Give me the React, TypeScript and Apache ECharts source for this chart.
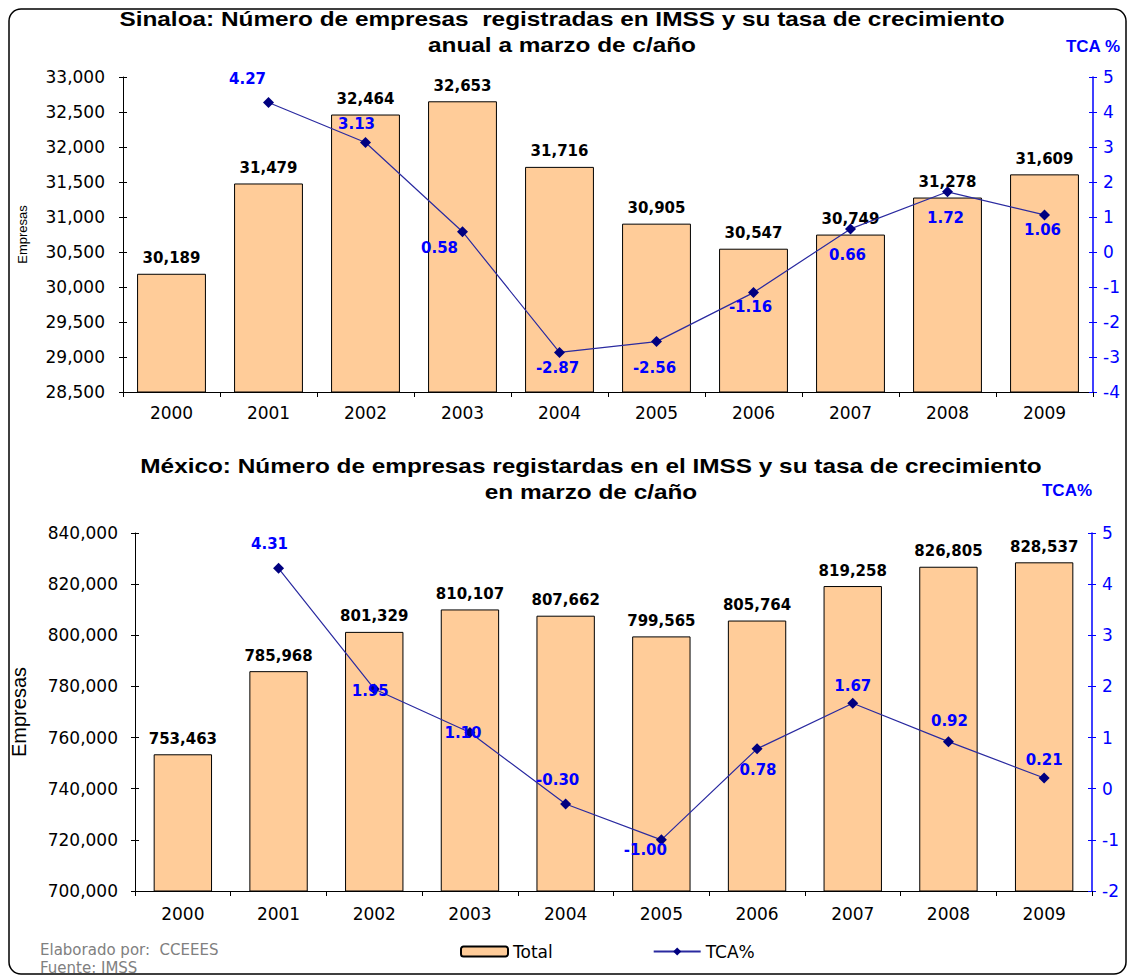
import React, { useEffect, useRef } from "react";
import * as echarts from "echarts";

const years = ["2000", "2001", "2002", "2003", "2004", "2005", "2006", "2007", "2008", "2009"];
const sinaloaTotal = [30189, 31479, 32464, 32653, 31716, 30905, 30547, 30749, 31278, 31609];
const sinaloaTca = [null, 4.27, 3.13, 0.58, -2.87, -2.56, -1.16, 0.66, 1.72, 1.06];
const mexicoTotal = [753463, 785968, 801329, 810107, 807662, 799565, 805764, 819258, 826805, 828537];
const mexicoTca = [null, 4.31, 1.95, 1.1, -0.3, -1.0, 0.78, 1.67, 0.92, 0.21];

// label shifts (dx, dy) of the TCA value labels relative to their points
const sinaloaTcaShift = [[0, 0], [-21, -24], [-9, -18], [-23, 16], [-2, 16], [-2, 26], [-3, 14], [-3, 26], [-2, 26], [-2, 15]];
const mexicoTcaShift = [[0, 0], [-9, -24], [-4, 2], [-7, 1], [-8, -24], [-16, 10], [1, 21], [0, -17], [1, -21], [0, -18]];

const sinaloaTitle = "Sinaloa: Número de empresas  registradas en IMSS y su tasa de crecimiento\nanual a marzo de c/año";
const mexicoTitle = "México: Número de empresas registardas en el IMSS y su tasa de crecimiento\nen marzo de c/año";

const BAR_COLOR = "#FFCC99";
const LINE_COLOR = "#2A2AA0";
const MARK_COLOR = "#000080";
const BLUE = "#0000FF";
const TICK_FONT = "DejaVu Sans";
const LABEL_FONT = "DejaVu Sans";

const fmt = (v: number) => Number(v).toLocaleString("en-US");

function valueAxes(grid: number, min: number, max: number, interval: number, rmin: number, rmax: number, name: string, nameSize: number, nameGap: number, tcaName: string, tcaGap: number, tcaPad: number[], labelMargin: number) {
  const leftMain = {
    type: "value", gridIndex: grid, position: "left", min, max, interval,
    name, nameLocation: "middle", nameGap,
    nameTextStyle: { fontFamily: "Liberation Sans", fontSize: nameSize, color: "#000" },
    axisLine: { show: true, lineStyle: { color: "#000", width: 1 } },
    axisTick: { show: true, length: 4, lineStyle: { color: "#000" } },
    axisLabel: { formatter: fmt, fontFamily: TICK_FONT, fontSize: 17, color: "#000", margin: labelMargin },
    splitLine: { show: false },
  };
  const leftInner = {
    type: "value", gridIndex: grid, position: "left", min, max, interval,
    axisLine: { show: false },
    axisTick: { show: true, inside: true, length: 4, lineStyle: { color: "#000" } },
    axisLabel: { show: false }, splitLine: { show: false },
  };
  const rightMain = {
    type: "value", gridIndex: grid, position: "right", min: rmin, max: rmax, interval: 1,
    name: tcaName, nameLocation: "end", nameGap: tcaGap,
    nameTextStyle: { fontFamily: "Liberation Sans", fontWeight: "bold", fontSize: 17, color: BLUE, padding: tcaPad },
    axisLine: { show: true, lineStyle: { color: BLUE, width: 1.5 } },
    axisTick: { show: true, length: 4, lineStyle: { color: BLUE } },
    axisLabel: { fontFamily: TICK_FONT, fontSize: 17, color: BLUE, margin: 10 },
    splitLine: { show: false },
  };
  const rightInner = {
    type: "value", gridIndex: grid, position: "right", min: rmin, max: rmax, interval: 1,
    axisLine: { show: false },
    axisTick: { show: true, inside: true, length: 4, lineStyle: { color: BLUE } },
    axisLabel: { show: false }, splitLine: { show: false },
  };
  return [leftMain, rightMain, leftInner, rightInner];
}

function catAxis(grid: number, margin: number) {
  return {
    type: "category", gridIndex: grid, data: years,
    axisLine: { show: true, onZero: false, lineStyle: { color: "#000", width: 1 } },
    axisTick: { show: true, length: 5, lineStyle: { color: "#000" } },
    axisLabel: { fontFamily: TICK_FONT, fontSize: 17, color: "#000", margin },
  };
}

function barSeries(xi: number, yi: number, values: number[], width: string) {
  return {
    type: "bar", name: "Total", xAxisIndex: xi, yAxisIndex: yi, data: values, barWidth: width,
    itemStyle: { color: BAR_COLOR, borderColor: "#000", borderWidth: 1 },
    label: {
      show: true, position: "top", distance: 8, formatter: (p: any) => fmt(p.value),
      fontFamily: LABEL_FONT, fontWeight: "bold", fontSize: 15, color: "#000",
    },
    z: 2,
  };
}

function lineSeries(xi: number, yi: number, values: (number | null)[], shifts: number[][]) {
  return {
    type: "line", name: "TCA%", xAxisIndex: xi, yAxisIndex: yi,
    data: values.map((v, i) => (v === null ? "-" : { value: v, label: { offset: shifts[i] } })),
    symbol: "diamond", symbolSize: 11,
    lineStyle: { color: LINE_COLOR, width: 1.2 },
    itemStyle: { color: MARK_COLOR },
    label: {
      show: true, position: "inside", formatter: (p: any) => Number(p.value).toFixed(2),
      fontFamily: LABEL_FONT, fontWeight: "bold", fontSize: 15, color: BLUE,
    },
    z: 5,
  };
}

export default function App() {
  const ref = useRef<HTMLDivElement>(null);
  useEffect(() => {
    if (!ref.current) return;
    const chart = echarts.init(ref.current, null, { renderer: "svg" });
    const yA = [
      ...valueAxes(0, 28500, 33000, 500, -4, 5, "Empresas", 13, 94, "TCA %", 22, [0, 0, 0, 0], 18),
      ...valueAxes(1, 700000, 840000, 20000, -2, 5, "Empresas", 20, 106, "TCA%", 34, [0, 50, 0, 0], 17),
    ];
    const titleStyle = { textAlign: "center", fontFamily: "Liberation Sans", fontWeight: "bold", fontSize: 21, lineHeight: 26, fill: "#000" };
    chart.setOption({
      animation: false,
      backgroundColor: "#fff",
      grid: [
        { left: 123, right: 35, top: 77, height: 315 },
        { left: 135, right: 36, top: 533, height: 358 },
      ],
      xAxis: [catAxis(0, 12), catAxis(1, 14)],
      yAxis: yA,
      series: [
        barSeries(0, 0, sinaloaTotal, "71%"),
        lineSeries(0, 1, sinaloaTca, sinaloaTcaShift),
        barSeries(1, 4, mexicoTotal, "61%"),
        lineSeries(1, 5, mexicoTca, mexicoTcaShift),
      ],
      legend: {
        left: 455, top: 938, itemWidth: 47, itemHeight: 10, itemGap: 100,
        data: ["Total", "TCA%"],
        textStyle: { fontFamily: LABEL_FONT, fontSize: 17, color: "#000" },
      },
      graphic: [
        {
          type: "rect", shape: { x: 9, y: 9, width: 1117, height: 965, r: 12 },
          style: { fill: "none", stroke: "#000", lineWidth: 1.5 }, silent: true,
        },
        { type: "text", x: 562, y: 6, scaleX: 1.16, style: { ...titleStyle, text: sinaloaTitle } },
        { type: "text", x: 591, y: 453, scaleX: 1.16, style: { ...titleStyle, text: mexicoTitle } },
        {
          type: "text", x: 40, y: 942,
          style: { text: "Elaborado por:  CCEEES", fontFamily: LABEL_FONT, fontSize: 15, fill: "#808080" },
        },
        {
          type: "text", x: 40, y: 960,
          style: { text: "Fuente: IMSS", fontFamily: LABEL_FONT, fontSize: 15, fill: "#808080" },
        },
      ],
    });
    return () => chart.dispose();
  }, []);
  return <div ref={ref} style={{ position: "fixed", left: 0, top: 0, width: 1128, height: 976 }} />;
}
